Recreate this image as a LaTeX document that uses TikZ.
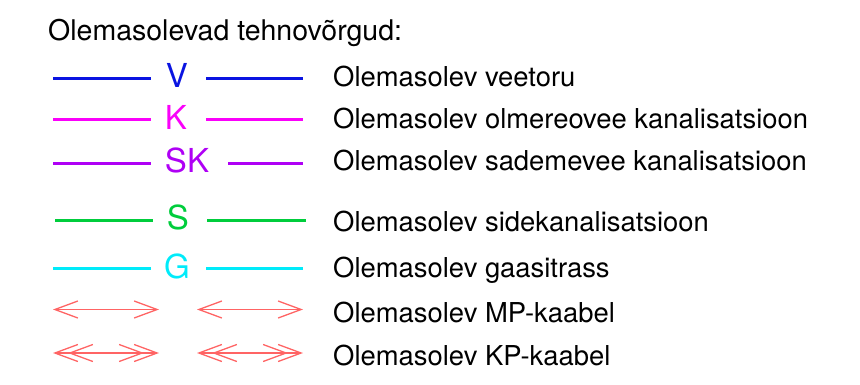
\documentclass[tikz,border=0pt]{standalone}
\usepackage{fontspec}
\setmainfont{TeX Gyre Heros}
\usetikzlibrary{arrows.meta}
\definecolor{veeblue}{RGB}{10,20,225}
\definecolor{olmmagenta}{RGB}{250,0,250}
\definecolor{sadviolet}{RGB}{175,0,245}
\definecolor{sidegreen}{RGB}{0,205,60}
\definecolor{gaascyan}{RGB}{0,235,250}
\definecolor{kaabred}{RGB}{255,100,100}

\begin{document}
\begin{tikzpicture}[x=1pt,y=-1pt,
    legtext/.style={anchor=base west,inner sep=0pt,font=\fontsize{27.4}{32}\selectfont},
    letter/.style={anchor=base,inner sep=0pt,font=\fontsize{33}{40}\selectfont},
    pipe/.style={line width=3pt},
    cable/.style={kaabred,line width=1.3pt,{Straight Barb[length=23pt,width=17pt]}-{Straight Barb[length=23pt,width=17pt]}}]
     \useasboundingbox (0,0) rectangle (860,384);
     \node[legtext,font=\fontsize{28.5}{34}\selectfont] (title) at (48,40) {Olemasolevad tehnovõrgud:};
     % veetoru
     \coordinate (v1) at (53,78);  \coordinate (v2) at (151,78);
     \coordinate (v3) at (206,78); \coordinate (v4) at (303,78);
     \draw[pipe,veeblue] (v1) -- (v2);
     \draw[pipe,veeblue] (v3) -- (v4);
     \node[letter,veeblue] (V) at (177,87) {V};
     \node[legtext] (tV) at (333,86) {Olemasolev veetoru};
     % olmereovee kanalisatsioon
     \coordinate (k1) at (53,119);  \coordinate (k2) at (151,119);
     \coordinate (k3) at (206,119); \coordinate (k4) at (303,119);
     \draw[pipe,olmmagenta] (k1) -- (k2);
     \draw[pipe,olmmagenta] (k3) -- (k4);
     \node[letter,olmmagenta] (K) at (176,129) {K};
     \node[legtext] (tK) at (333,128) {Olemasolev olmereovee kanalisatsioon};
     % sademevee kanalisatsioon
     \coordinate (sk1) at (53,163);  \coordinate (sk2) at (151,163);
     \coordinate (sk3) at (228,163); \coordinate (sk4) at (303,163);
     \draw[pipe,sadviolet] (sk1) -- (sk2);
     \draw[pipe,sadviolet] (sk3) -- (sk4);
     \node[letter,sadviolet] (SK) at (187,172) {SK};
     \node[legtext] (tSK) at (333,170) {Olemasolev sademevee kanalisatsioon};
     % sidekanalisatsioon
     \coordinate (s1) at (55,220);  \coordinate (s2) at (153,220);
     \coordinate (s3) at (207,220); \coordinate (s4) at (306,220);
     \draw[pipe,sidegreen] (s1) -- (s2);
     \draw[pipe,sidegreen] (s3) -- (s4);
     \node[letter,sidegreen] (S) at (178,229) {S};
     \node[legtext] (tS) at (333,231) {Olemasolev sidekanalisatsioon};
     % gaasitrass
     \coordinate (g1) at (53,268);  \coordinate (g2) at (151,268);
     \coordinate (g3) at (206,268); \coordinate (g4) at (303,268);
     \draw[pipe,gaascyan] (g1) -- (g2);
     \draw[pipe,gaascyan] (g3) -- (g4);
     \node[letter,gaascyan] (G) at (177,278) {G};
     \node[legtext] (tG) at (333,277) {Olemasolev gaasitrass};
     % MP-kaabel
     \coordinate (mp1) at (53,309.5);  \coordinate (mp2) at (159,309.5);
     \coordinate (mp3) at (197,309.5); \coordinate (mp4) at (303,309.5);
     \draw[cable] (mp1) -- (mp2);
     \draw[cable] (mp3) -- (mp4);
     \node[legtext] (tMP) at (333,322) {Olemasolev MP-kaabel};
     % KP-kaabel
     \coordinate (kp1) at (53,353);  \coordinate (kp2) at (159,353);
     \coordinate (kp3) at (197,353); \coordinate (kp4) at (303,353);
     \draw[cable] (kp1) -- (kp2);
     \draw[cable,shorten <=15pt,shorten >=15pt] (kp1) -- (kp2);
     \draw[cable] (kp3) -- (kp4);
     \draw[cable,shorten <=15pt,shorten >=15pt] (kp3) -- (kp4);
     \node[legtext] (tKP) at (333,365) {Olemasolev KP-kaabel};
\end{tikzpicture}
\end{document}
